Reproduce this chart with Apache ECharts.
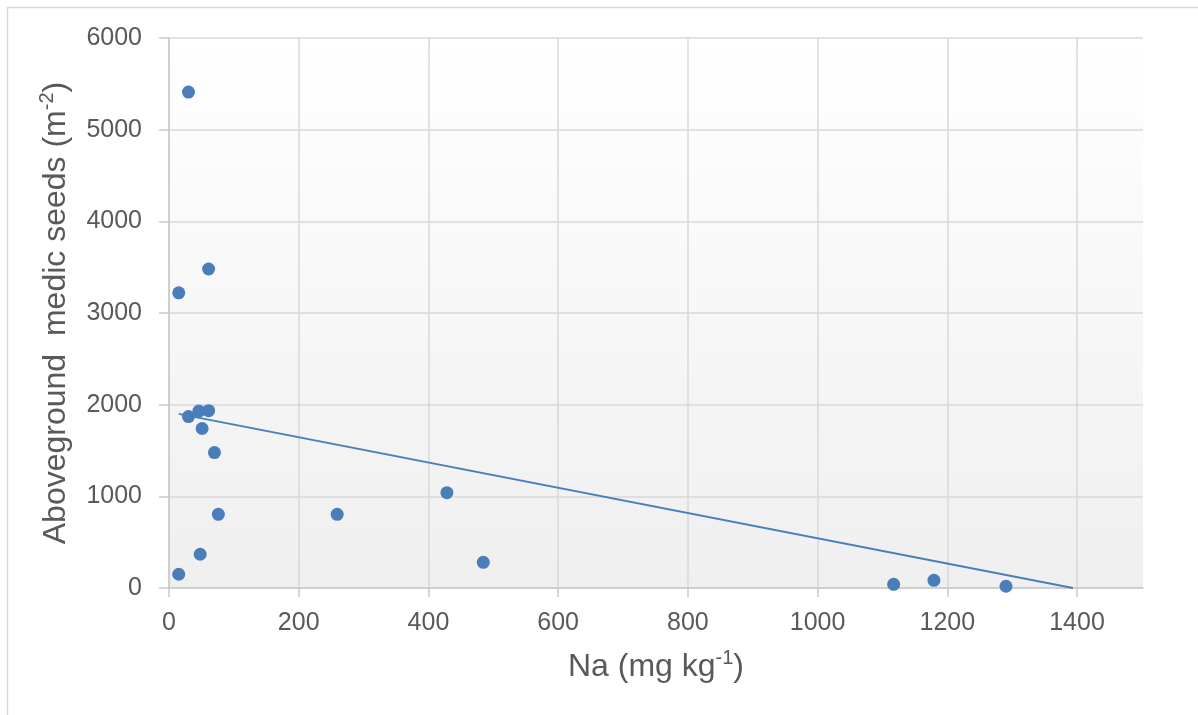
<!DOCTYPE html>
<html>
<head>
<meta charset="utf-8">
<script src="https://cdn.jsdelivr.net/npm/echarts@6/dist/echarts.min.js"></script>
<style>
html,body{margin:0;padding:0;background:#fff;}
#chart{width:1198px;height:715px;}
</style>
</head>
<body>
<div id="chart"></div>
<script>
// Data
const naValues   = [30, 61, 15, 30, 46, 61, 51, 70, 76, 259, 48, 15, 428, 484, 1116, 1178, 1289];
const seedValues = [5410, 3480, 3220, 1870, 1930, 1935, 1740, 1477, 804, 804, 368, 150, 1040, 280, 40, 84, 19];
const trendX = [15, 1392];
const trendY = [1900, 0];
const xTitle = 'Na (mg kg';
const xTitleSup = '-1';
const yTitle = 'Aboveground  medic seeds (m';
const yTitleSup = '-2';

const FONT = '"Liberation Sans", Arial, sans-serif';
const TXT = '#595959';
const GRIDC = '#d9d9d9';
const AXC = '#c9c9c9';
const BLUE = '#4a7ebb';

const chart = echarts.init(document.getElementById('chart'), null, {renderer: 'canvas'});

const points = naValues.map((x, i) => [x, seedValues[i]]);
const trend = trendX.map((x, i) => [x, trendY[i]]);
const plain = v => String(v);

const option = {
  backgroundColor: '#ffffff',
  animation: false,
  textStyle: {fontFamily: FONT},
  graphic: [{
    type: 'rect', silent: true, z: -10,
    shape: {x: 7.5, y: 7.5, width: 1210, height: 730},
    style: {fill: null, stroke: '#d9d9d9', lineWidth: 1.5}
  }],
  grid: [
    {left: 169, right: 55, top: 38, bottom: 127, show: true, borderWidth: 0,
     backgroundColor: {type: 'linear', x: 0, y: 0, x2: 0, y2: 1,
       colorStops: [{offset: 0, color: '#ffffff'}, {offset: 1, color: '#efefef'}]}},
    {left: 169, right: 121, top: 38, bottom: 127, show: false}
  ],
  xAxis: [
    {gridIndex: 0, type: 'value', min: 0, max: 1500,
     axisLine: {show: true, onZero: false, lineStyle: {color: AXC, width: 1.5}},
     axisTick: {show: false}, axisLabel: {show: false}, splitLine: {show: false},
     name: xTitle + '{sup|' + xTitleSup + '})', nameLocation: 'middle', nameGap: 60,
     nameTextStyle: {color: TXT, fontSize: 32, fontFamily: FONT, lineHeight: 38,
       rich: {sup: {fontSize: 20, color: TXT, fontFamily: FONT, verticalAlign: 'top', lineHeight: 38}}}
    },
    {gridIndex: 1, type: 'value', min: 0, max: 1400, interval: 200,
     axisLine: {show: false},
     axisTick: {show: true, inside: false, length: 9, lineStyle: {color: AXC, width: 1.5}},
     axisLabel: {show: true, margin: 23, color: TXT, fontSize: 25, fontFamily: FONT, formatter: plain},
     splitLine: {show: true, lineStyle: {color: GRIDC, width: 1.5}}
    }
  ],
  yAxis: [
    {gridIndex: 0, type: 'value', min: 0, max: 6000, interval: 1000,
     axisLine: {show: true, onZero: false, lineStyle: {color: AXC, width: 1.5}},
     axisTick: {show: true, inside: false, length: 10, lineStyle: {color: AXC, width: 1.5}},
     axisLabel: {show: true, margin: 27, color: TXT, fontSize: 25, fontFamily: FONT, formatter: plain},
     splitLine: {show: true, lineStyle: {color: GRIDC, width: 1.5}},
     name: yTitle + '{sup|' + yTitleSup + '})', nameLocation: 'middle', nameGap: 86, nameRotate: 90,
     nameTextStyle: {color: TXT, fontSize: 32, fontFamily: FONT, lineHeight: 38,
       rich: {sup: {fontSize: 20, color: TXT, fontFamily: FONT, verticalAlign: 'top', lineHeight: 38}}}
    },
    {gridIndex: 1, type: 'value', min: 0, max: 6000, show: false}
  ],
  series: [
    {type: 'line', xAxisIndex: 0, yAxisIndex: 0, data: trend, symbol: 'none',
     lineStyle: {color: BLUE, width: 1.8}, z: 2, silent: true},
    {type: 'scatter', xAxisIndex: 0, yAxisIndex: 0, data: points, symbolSize: 13,
     itemStyle: {color: BLUE, opacity: 1}, z: 3}
  ]
};
chart.setOption(option);
</script>
</body>
</html>
